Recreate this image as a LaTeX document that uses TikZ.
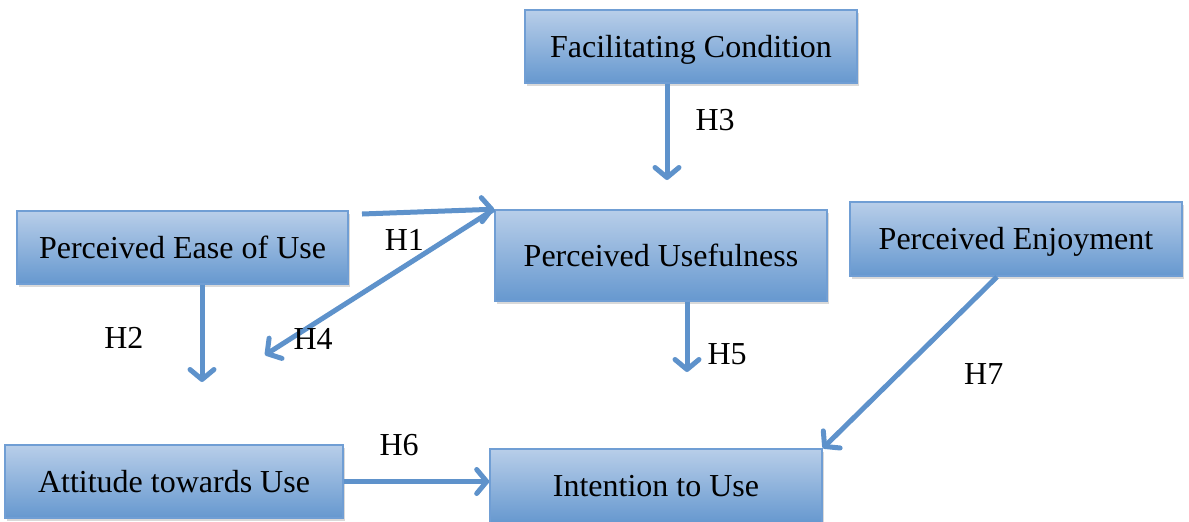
\documentclass[tikz,border=0pt]{standalone}
\usepackage{fontspec}
\setmainfont{Liberation Serif}
\usepackage{tikz}
\usetikzlibrary{arrows.meta, positioning, shadows}
\definecolor{boxtop}{RGB}{184,206,233}
\definecolor{boxbottom}{RGB}{102,152,207}
\definecolor{boxline}{RGB}{112,158,212}
\definecolor{arrowblue}{RGB}{94,146,203}
\tikzstyle{factor} = [rectangle, minimum width=166pt, minimum height=36.5pt, text height=14pt, text depth=3.5pt, text centered, draw=boxline, line width=0.8pt, top color=boxtop, bottom color=boxbottom, font=\fontsize{16}{19}\selectfont, drop shadow={shadow xshift=1pt, shadow yshift=-1.5pt, opacity=0.3}]
\tikzstyle{arrow} = [draw=arrowblue, line width=2.5pt, -{Straight Barb[length=5pt, width=12pt, round]}]
\tikzstyle{hyp} = [font=\fontsize{16}{19}\selectfont, inner sep=2pt]

\begin{document}
\begin{tikzpicture}[node distance=100pt]
\useasboundingbox (0,0) rectangle (594.5pt,-260.5pt);
\node (fc) [factor] at (345.5pt,-23.25pt) {Facilitating Condition};
\node (pu) [factor, minimum height=45.5pt, below of=fc, xshift=-15pt, yshift=-4.5pt] {Perceived Usefulness};
\node (peou) [factor, minimum width=165.5pt, left of=pu, xshift=-139.25pt, yshift=4pt] {Perceived Ease of Use};
\node (pe) [factor, minimum height=37pt, right of=pu, xshift=77.5pt, yshift=8.25pt] {Perceived Enjoyment};
\node (atu) [factor, minimum width=169pt, below of=peou, xshift=-4.25pt, yshift=-17pt] {Attitude towards Use};
\node (itu) [factor, minimum height=37pt, below of=pu, xshift=-2.5pt, yshift=-15.25pt] {Intention to Use};

\coordinate (h1start) at (181pt,-107pt);
\coordinate (h2end) at (101pt,-191pt);
\coordinate (h3end) at (333.5pt,-90pt);
\coordinate (h4end) at (132.5pt,-177.5pt);
\coordinate (h5end) at (343.5pt,-186pt);
\coordinate (h7start) at (498.5pt,-138.5pt);

\draw [arrow] (h1start) -- node (lh1) [hyp, pos=0.32, below=5pt] {H1} (pu.north west);
\draw [arrow] (h2end |- peou.south) -- node (lh2) [hyp, pos=0.55, left=26pt] {H2} (h2end);
\draw [arrow] (h3end |- fc.south) -- node (lh3) [hyp, pos=0.38, right=11pt] {H3} (h3end);
\draw [arrow] (pu.north west) -- node (lh4) [hyp, pos=0.79, below=-1pt] {H4} (h4end);
\draw [arrow] (h5end |- pu.south) -- node (lh5) [hyp, pos=0.75, right=7pt] {H5} (h5end);
\draw [arrow] (atu.east) -- node (lh6) [hyp, pos=0.38, above=9.5pt] {H6} (atu.east -| itu.west);
\draw [arrow] (h7start |- pe.south) -- node (lh7) [hyp, pos=0.57, right=30pt] {H7} (itu.north east);
\end{tikzpicture}
\end{document}
